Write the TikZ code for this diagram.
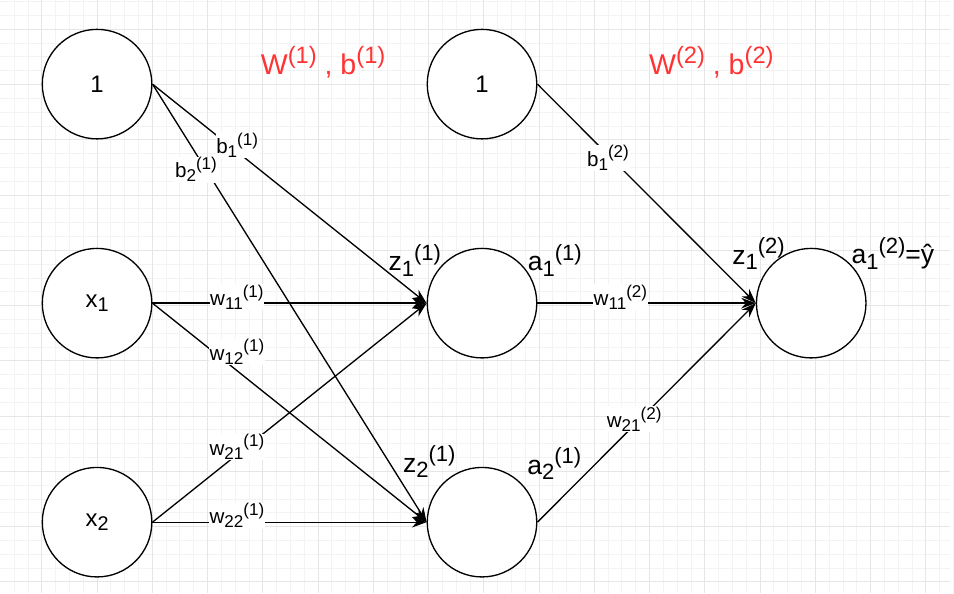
\documentclass[tikz,border=0pt]{standalone}
\usepackage{fontspec}
\setmainfont{Liberation Sans}
\usepackage{graphicx}
\usetikzlibrary{positioning, arrows.meta}
\definecolor{wred}{HTML}{FF3333}
\definecolor{gridminor}{HTML}{F3F3F3}
\definecolor{gridmajor}{HTML}{E6E6E6}
\newcommand{\lo}[1]{\raisebox{-0.2em}{\scalebox{0.83}{#1}}} % subscript
\newcommand{\hi}[1]{\raisebox{0.4em}{\scalebox{0.83}{#1}}} % superscript
\tikzset{
>={Stealth[length=11pt, width=8pt]}, % filled arrow heads
on grid, % distances are centre to centre
node distance=165pt and 290pt, % rows and columns of the net
neuron/.style={circle, draw, line width=1pt, fill=white, minimum size=82.5pt, inner sep=0pt, font=\fontsize{18}{20}\selectfont},
lbl/.style={inner sep=0pt, font=\fontsize{20}{24}\selectfont},
weight/.style={fill=white, inner sep=0.5pt, font=\fontsize{15.5}{18}\selectfont},
layer/.style={text=wred, inner sep=0pt, font=\fontsize{21.5}{26}\selectfont},
link/.style={->, line width=1pt},
}
\begin{document}
\begin{tikzpicture}[x=0.75pt, y=-0.75pt]
    % background grid
    \fill[white] (0,0) rectangle (954,595);
    \foreach \k in {0,...,68} \draw[gridminor, line width=0.75pt] ({13.75+13.875*\k},0) -- ++(0,595);
    \foreach \k in {0,...,42} \draw[gridminor, line width=0.75pt] (0,{1.25+13.875*\k}) -- ++(954,0);
    \foreach \k in {0,...,16} \draw[gridmajor, line width=0.75pt] ({41.5+55.5*\k},0) -- ++(0,595);
    \foreach \k in {0,...,10} \draw[gridmajor, line width=0.75pt] (0,{29+55.5*\k}) -- ++(954,0);
    \useasboundingbox (0,0) rectangle (954,595);

    % neurons
    \node[neuron] (i0) at (97,84) {1};
    \node[neuron, below=of i0] (i1) {x\lo{1}};
    \node[neuron, below=of i1] (i2) {x\lo{2}};
    \node[neuron, right=of i0] (h0) {1};
    \node[neuron, right=of i1] (h1) {};
    \node[neuron, right=of i2] (h2) {};
    \node[neuron, right=248pt of h1] (o1) {};

    % layer labels
    \node[layer] (L1) at (324,62) {W\hi{(1)} , b\hi{(1)}};
    \node[layer] (L2) at (714,62) {W\hi{(2)} , b\hi{(2)}};

    % neuron labels
    \node[lbl, above left=32.3pt and 50.6pt of h1] (z11) {z\lo{1}\hi{(1)}};
    \node[lbl, above right=32.3pt and 54.8pt of h1] (a11) {a\lo{1}\hi{(1)}};
    \node[lbl, above left=45.7pt and 39.7pt of h2] (z21) {z\lo{2}\hi{(1)}};
    \node[lbl, above right=44.2pt and 54.4pt of h2] (a21) {a\lo{2}\hi{(1)}};
    \node[lbl, above left=37.5pt and 39.7pt of o1] (z12) {z\lo{1}\hi{(2)}};
    \node[lbl, above right=37.5pt and 61.5pt of o1] (a12) {a\lo{1}\hi{(2)}=ŷ};

    % first layer
    \draw[link] (i0.east) -- node[weight, pos=0.28, xshift=6pt] (b1) {b\lo{1}\hi{(1)}} (h1.west);
    \draw[link] (i0.east) -- node[weight, pos=0.195, xshift=-7.5pt] (b2) {b\lo{2}\hi{(1)}} (h2.west);
    \draw[link] (i1.east) -- node[weight, pos=0.308, yshift=4.5pt] (w11) {w\lo{11}\hi{(1)}} (h1.west);
    \draw[link] (i1.east) -- node[weight, pos=0.245, xshift=13pt, yshift=3.7pt] (w12) {w\lo{12}\hi{(1)}} (h2.west);
    \draw[link] (i2.east) -- node[weight, pos=0.308, yshift=6pt] (w21) {w\lo{21}\hi{(1)}} (h1.west);
    \draw[link] (i2.east) -- node[weight, pos=0.308, yshift=5pt] (w22) {w\lo{22}\hi{(1)}} (h2.west);

    % second layer
    \draw[link] (h0.east) -- node[weight, pos=0.323, yshift=-2.25pt] (c1) {b\lo{1}\hi{(2)}} (o1.west);
    \draw[link] (h1.east) -- node[weight, pos=0.38, yshift=4.5pt] (v11) {w\lo{11}\hi{(2)}} (o1.west);
    \draw[link] (h2.east) -- node[weight, pos=0.443, yshift=4.5pt] (v21) {w\lo{21}\hi{(2)}} (o1.west);
\end{tikzpicture}
\end{document}
